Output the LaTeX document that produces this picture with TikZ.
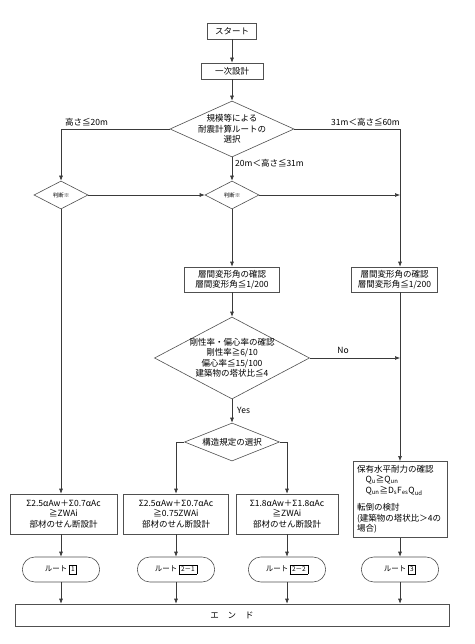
\documentclass[tikz,border=0pt]{standalone}
\usepackage{fontspec}
\setmainfont{Noto Sans CJK JP}
\usepackage{tikz}
\usetikzlibrary{arrows.meta,positioning,shapes.geometric,shapes.misc}
\definecolor{LineGray}{HTML}{3A3A3A}
\definecolor{EdgeGray}{HTML}{505050}
\newcommand{\chartfont}{\fontsize{8.5}{10.5}\selectfont}
\newcommand{\smallchart}{\fontsize{5.5}{6.5}\selectfont}
\newcommand{\rtno}[1]{{\setlength{\fboxsep}{1.8pt}\setlength{\fboxrule}{0.6pt}\fbox{\fontsize{6.5}{7}\selectfont #1}}}
\tikzset{
  box/.style={draw=EdgeGray,fill=white,align=center,inner sep=2pt,line width=0.6pt,font=\chartfont},
  diam/.style={draw=EdgeGray,fill=white,diamond,inner sep=0pt,line width=0.6pt},
  dtext/.style={align=center,inner sep=0pt,font=\chartfont},
  term/.style={draw=EdgeGray,fill=white,rounded rectangle,line width=0.6pt,
              minimum width=84pt,minimum height=25pt,font=\fontsize{7.5}{9}\selectfont},
  flow/.style={-{Latex[length=5pt,width=4pt]},draw=LineGray,line width=0.6pt},
  note/.style={font=\chartfont,inner sep=1pt}
}
\begin{document}
\begin{tikzpicture}[x=1pt,y=-1pt]
  \useasboundingbox (0,0) rectangle (474,644);
  % centre column
  \node[box,minimum width=49pt,minimum height=16pt] (start) at (232,31) {スタート};
  \node[box,minimum width=62pt,minimum height=16pt] (plan) at (232,71) {一次設計};
  \node[diam,minimum width=124pt,minimum height=56pt,
        label={[dtext]center:規模等による\\耐震計算ルートの\\選択}] (route) at (232,129) {};
  \node[diam,minimum width=54pt,minimum height=28pt,
        label={[dtext,font=\smallchart]center:判断※}] (judgeA) at (61,195) {};
  \node[diam,minimum width=54pt,minimum height=28pt,
        label={[dtext,font=\smallchart]center:判断※}] (judgeB) at (232,195) {};
  \node[box,minimum width=95pt,minimum height=25pt] (drift) at (232,279.5) {層間変形角の確認\\層間変形角≦1/200};
  \node[box,minimum width=86pt,minimum height=25pt] (driftR) at (394.5,279.5) {層間変形角の確認\\層間変形角≦1/200};
  \node[diam,minimum width=155pt,minimum height=82pt,
        label={[dtext]center:剛性率・偏心率の確認\\剛性率≧6/10\\偏心率≦15/100\\建築物の塔状比≦4}] (ratio) at (232,358) {};
  \node[diam,minimum width=95pt,minimum height=38pt,
        label={[dtext]center:構造規定の選択}] (rule) at (232,442) {};
  % shear design
  \node[box,minimum width=107pt,minimum height=40pt] (shearA) at (63.5,514) {Σ2.5αAw＋Σ0.7αAc\\≧ZWAi\\部材のせん断設計};
  \node[box,minimum width=105pt,minimum height=40pt] (shearB) at (176,514) {Σ2.5αAw＋Σ0.7αAc\\≧0.75ZWAi\\部材のせん断設計};
  \node[box,minimum width=102pt,minimum height=40pt] (shearC) at (287,514) {Σ1.8αAw＋Σ1.8αAc\\≧ZWAi\\部材のせん断設計};
  \node[box,align=left,text width=86pt,minimum height=72pt,inner sep=4pt] (capacity) at (400,499.5)
    {保有水平耐力の確認\\
     \hspace*{1em}Q\textsubscript{u}≧Q\textsubscript{un}\\
     \hspace*{1em}Q\textsubscript{un}≧D\textsubscript{s}F\textsubscript{es}Q\textsubscript{ud}\\[7pt]
     転倒の検討\\
     (建築物の塔状比＞4の\\
     場合)};
  % routes
  \node[term] (rt1) at (61,569.5) {ルート\,\rtno{1}};
  \node[term] (rt21) at (176,569.5) {ルート\,\rtno{2－1}};
  \node[term] (rt22) at (287,569.5) {ルート\,\rtno{2－2}};
  \node[term] (rt3) at (400,569.5) {ルート\,\rtno{3}};
  \node[box,minimum width=434pt,minimum height=22pt] (finish) at (232,615) {エ\hspace{9pt}ン\hspace{9pt}ド};

  % labels
  \node[note,anchor=south west] (low) at (64,127) {高さ≦20m};
  \node[note,anchor=south east] (high) at (401,127) {31m＜高さ≦60m};
  \node[note,anchor=west] (mid) at (234,163) {20m＜高さ≦31m};
  \node[note] (no) at (343,350) {No};
  \node[note,anchor=west] (yes) at (236,410) {Yes};

  \draw[flow] (start) -- (plan);
  \draw[flow] (plan) -- (route);
  \draw[flow] (route.west) -| (judgeA.north);
  \draw[flow] (route.east) -| (rt3 |- driftR.north);
  \draw[flow] (route.south) -- (judgeB.north);
  \draw[flow] (judgeA.east) -- (judgeB.west);
  \draw[flow] (judgeB.east) -- (judgeB -| rt3);
  \draw[flow] (judgeA.south) -- (judgeA |- shearA.north);
  \draw[flow] (judgeB.south) -- (drift.north);
  \draw[flow] (drift.south) -- (ratio.north);
  \draw[flow] (ratio.east) -- (ratio -| rt3);
  \draw[flow] (ratio.south) -- (rule.north);
  \draw[flow] (rule.west) -| (shearB.north);
  \draw[flow] (rule.east) -| (shearC.north);
  \draw[flow] (rt3 |- driftR.south) -- (capacity.north);
  \draw[flow] (rt1 |- shearA.south) -- (rt1.north);
  \draw[flow] (shearB.south) -- (rt21.north);
  \draw[flow] (shearC.south) -- (rt22.north);
  \draw[flow] (capacity.south) -- (rt3.north);
  \foreach \r in {rt1,rt21,rt22,rt3}
    \draw[flow] (\r.south) -- (\r |- finish.north);
\end{tikzpicture}
\end{document}
